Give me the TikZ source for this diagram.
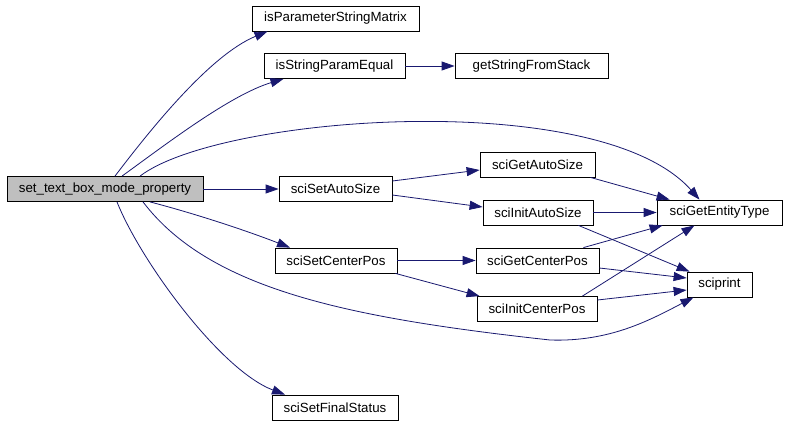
\documentclass[tikz,border=0pt]{standalone}
\usepackage{fontspec}
\setmainfont{Liberation Sans}
\usepackage{tikz}
\usetikzlibrary{arrows.meta,positioning}
\usepackage{xcolor}
\definecolor{callblue}{HTML}{191970}
\definecolor{rootgray}{HTML}{BFBFBF}
\tikzset{
  fn/.style={draw=black,fill=white,line width=0.8pt,inner sep=0pt,
    minimum height=25pt,font=\fontsize{13.3}{15}\selectfont},
  root/.style={fn,fill=rootgray},
  call/.style={-{Triangle[length=13pt,width=9pt]},draw=callblue,line width=0.8pt}
}
\begin{document}
\begin{tikzpicture}[x=1pt,y=-1pt]
  \useasboundingbox[fill=white] (0,0) rectangle (786,423);
  % functions
  \node[root,minimum width=196pt] (m) at (105,189) {set\_text\_box\_mode\_property};
  \node[fn,minimum width=167pt] (ipsm) at (335.5,18.5) {isParameterStringMatrix};
  \node[fn,minimum width=141pt] (ispe) at (334.5,66) {isStringParamEqual};
  \node[fn,minimum width=153pt] (gsfs) at (531.5,66) {getStringFromStack};
  \node[fn,minimum width=113pt] (ssa) at (335.5,189) {sciSetAutoSize};
  \node[fn,minimum width=115pt] (sga) at (537.5,164.5) {sciGetAutoSize};
  \node[fn,minimum width=110pt] (sia) at (538,212.5) {sciInitAutoSize};
  \node[fn,minimum width=125pt] (sget) at (719.5,212.5) {sciGetEntityType};
  \node[fn,minimum width=122pt] (scp) at (336,260.5) {sciSetCenterPos};
  \node[fn,minimum width=123pt] (sgc) at (537.5,260.5) {sciGetCenterPos};
  \node[fn,minimum width=120pt] (sic) at (537,309) {sciInitCenterPos};
  \node[fn,minimum width=65pt] (sp) at (719.5,284.5) {sciprint};
  \node[fn,minimum width=126pt] (sfs) at (335,407.5) {sciSetFinalStatus};
  % calls from the root
  \draw[call] ([xshift=10pt]m.north) .. controls (150,130) and (210,55) .. ([xshift=-68pt]ipsm.south);
  \draw[call] ([xshift=17pt]m.north) .. controls (165,145) and (230,95) .. ([xshift=-51pt]ispe.south);
  \draw[call] ([xshift=35pt]m.north) .. controls (220,115) and (600,87) .. ([xshift=-20pt]sget.north);
  \draw[call] (m) -- (ssa);
  \draw[call] ([xshift=45pt]m.south) .. controls (200,215) and (250,232) .. ([xshift=-46pt]scp.north);
  \draw[call] ([xshift=38pt]m.south) .. controls (210,290) and (350,318) .. (550,340)
    .. controls (610,342) and (650,320) .. ([xshift=-26pt]sp.south);
  \draw[call] ([xshift=12pt]m.south) .. controls (140,260) and (220,370) .. ([xshift=-50pt]sfs.north);
  % other calls
  \draw[call] (ispe) -- (gsfs);
  \draw[call] ([yshift=8pt]ssa.east) -- ([yshift=-5.5pt]sga.west);
  \draw[call] ([yshift=-6pt]ssa.east) -- ([yshift=5.5pt]sia.west);
  \draw[call] ([xshift=-5pt]sga.south east) -- ([xshift=13pt]sget.north west);
  \draw[call] (sia) -- (sget);
  \draw[call] ([xshift=-15pt]sia.south east) -- ([xshift=3pt]sp.north west);
  \draw[call] (scp) -- (sgc);
  \draw[call] ([xshift=-2pt]scp.south east) -- ([xshift=3pt]sic.north west);
  \draw[call] ([xshift=-16pt]sgc.north east) -- ([xshift=6pt]sget.south west);
  \draw[call] ([yshift=-7.5pt]sgc.east) -- ([yshift=6.5pt]sp.west);
  \draw[call] ([xshift=-15pt]sic.north east) -- ([xshift=-25pt]sget.south);
  \draw[call] ([yshift=9pt]sic.east) -- ([yshift=-5.5pt]sp.west);
\end{tikzpicture}
\end{document}
